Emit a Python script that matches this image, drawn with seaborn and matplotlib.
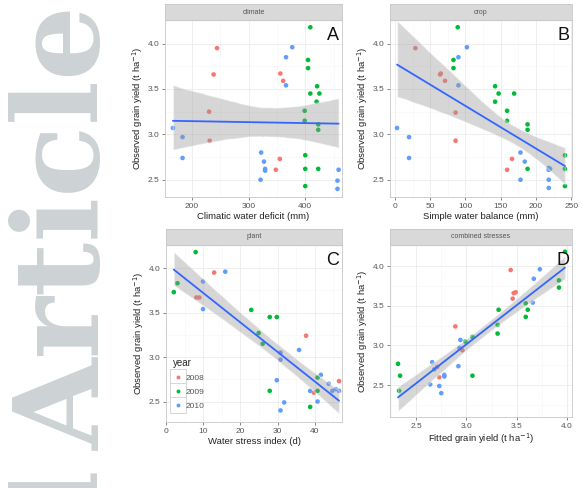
import numpy as np, pandas as pd
import matplotlib
matplotlib.use("Agg")
import matplotlib.pyplot as plt
from matplotlib.ticker import AutoMinorLocator, FixedLocator
from matplotlib.lines import Line2D
from matplotlib.legend_handler import HandlerTuple
import seaborn as sns

sns.set_theme(style="white")
plt.rcParams["font.family"] = ["Liberation Sans", "DejaVu Sans"]

YEARS = [2008, 2009, 2010]
PAL = {2008: "#F8766D", 2009: "#00BA38", 2010: "#619CFF"}
YLAB = "Observed grain yield (t ha$^{-1}$)"

# ---- panel A: climatic water deficit (mm) vs observed yield ----
a_x = [244, 238, 230, 231, 356, 361, 355, 348,
       409, 405, 405, 421, 409, 425, 420, 399, 399, 423, 423, 400, 400, 423, 400,
       166, 183, 183, 377, 366, 366, 322, 327, 329, 329, 321, 459, 457, 457]
a_y = [3.95, 3.66, 3.25, 2.93, 3.67, 3.59, 2.73, 2.61,
       4.18, 3.82, 3.73, 3.53, 3.45, 3.45, 3.36, 3.26, 3.15, 3.11, 3.05, 2.77, 2.62, 2.62, 2.43,
       3.07, 2.97, 2.74, 3.96, 3.85, 3.54, 2.80, 2.70, 2.62, 2.60, 2.50, 2.61, 2.49, 2.40]
a_year = [2008] * 8 + [2009] * 15 + [2010] * 14

# ---- panel B: simple water balance (mm) ----
b_x = [29, 65, 64, 71, 86, 86, 166, 159,
       89, 83, 83, 142, 147, 169, 142, 159, 159, 188, 188, 188, 241, 241, 241,
       102, 90, 90, 3, 20, 20, 178, 184, 218, 220, 178, 218, 218, 218]
b_y = [3.95, 3.67, 3.66, 3.59, 3.24, 2.93, 2.73, 2.61,
       4.18, 3.82, 3.73, 3.53, 3.45, 3.45, 3.36, 3.26, 3.15, 3.11, 3.05, 2.62, 2.77, 2.62, 2.43,
       3.96, 3.85, 3.54, 3.07, 2.97, 2.74, 2.80, 2.70, 2.63, 2.62, 2.50, 2.50, 2.41, 2.61]
b_year = [2008] * 8 + [2009] * 15 + [2010] * 14

# ---- panel C: water stress index (d) ----
c_x = [12.9, 8.1, 8.9, 37.7, 39.8, 46.6,
       7.9, 3.0, 2.0, 22.9, 27.9, 29.8, 24.9, 26.0, 27.9, 38.8, 40.8, 40.8,
       15.9, 9.9, 9.9, 35.8, 30.8, 30.8, 29.8, 31.8, 30.8, 40.8, 38.8, 41.7, 43.8, 44.8, 45.7, 46.6]
c_y = [3.95, 3.67, 3.67, 3.24, 2.60, 2.73,
       4.18, 3.83, 3.73, 3.53, 3.45, 3.45, 3.27, 3.15, 2.62, 2.44, 2.62, 2.77,
       3.96, 3.85, 3.54, 3.08, 3.05, 2.97, 2.74, 2.49, 2.40, 2.50, 2.62, 2.80, 2.70, 2.62, 2.64, 2.62]
c_year = [2008] * 6 + [2009] * 12 + [2010] * 16

# ---- panel D: fitted grain yield (t/ha) ----
d_x = [3.44, 3.47, 3.49, 3.46, 2.89, 2.96, 2.71, 2.73,
       3.98, 3.92, 3.92, 3.59, 3.61, 3.32, 3.59, 3.31, 3.31, 3.06, 2.99, 2.32, 2.34, 3.06, 2.33,
       3.73, 3.67, 3.66, 2.94, 2.93, 2.66, 2.92, 2.68, 2.78, 2.78, 2.64, 2.73, 2.75]
d_y = [3.95, 3.66, 3.67, 3.59, 3.24, 2.94, 2.73, 2.60,
       4.18, 3.82, 3.73, 3.53, 3.45, 3.45, 3.36, 3.26, 3.15, 3.11, 3.05, 2.77, 2.62, 2.62, 2.43,
       3.96, 3.84, 3.54, 3.07, 2.97, 2.79, 2.74, 2.70, 2.63, 2.61, 2.51, 2.49, 2.40]
d_year = [2008] * 8 + [2009] * 15 + [2010] * 13

W, H = 583, 488
fig = plt.figure(figsize=(W / 100, H / 100), dpi=100)


def box(l, t, r, b):
    return [l / W, 1 - b / H, (r - l) / W, (b - t) / H]


panels = [
    dict(x=a_x, y=a_y, yr=a_year, strip="climate", letter="A", pos=(165, 20, 342, 197),
         xlab="Climatic water deficit (mm)", xlim=(152, 465), ylim=(2.31, 4.26),
         xt=[200, 300, 400]),
    dict(x=b_x, y=b_y, yr=b_year, strip="crop", letter="B", pos=(390, 20, 572, 197),
         xlab="Simple water balance (mm)", xlim=(-7, 251), ylim=(2.31, 4.26),
         xt=[0, 50, 100, 150, 200, 250]),
    dict(x=c_x, y=c_y, yr=c_year, strip="plant", letter="C", pos=(166, 245, 342, 422),
         xlab="Water stress index (d)", xlim=(-0.1, 47.4), ylim=(2.27, 4.26),
         xt=[0, 10, 20, 30, 40]),
    dict(x=d_x, y=d_y, yr=d_year, strip="combined stresses", letter="D", pos=(390, 245, 572, 417),
         xlab="Fitted grain yield (t ha$^{-1}$)", xlim=(2.24, 4.05), ylim=(2.10, 4.265),
         xt=[2.5, 3.0, 3.5, 4.0]),
]

for p in panels:
    l, t, r, b = p["pos"]
    ax = fig.add_axes(box(l, t, r, b))
    df = pd.DataFrame({"x": p["x"], "y": p["y"], "year": p["yr"]})
    sns.scatterplot(data=df, x="x", y="y", hue="year", palette=PAL, s=11,
                    linewidth=0, legend=False, ax=ax, zorder=2)
    sns.regplot(data=df, x="x", y="y", scatter=False, ci=95, seed=3, n_boot=2000,
                color="#3366FF", line_kws=dict(lw=1.3, zorder=4), ax=ax)
    band = ax.collections[-1]
    band.set_facecolor("#999999"); band.set_alpha(0.4); band.set_zorder(3)
    ax.set_xlim(*p["xlim"]); ax.set_ylim(*p["ylim"])
    ax.xaxis.set_major_locator(FixedLocator(p["xt"]))
    ax.yaxis.set_major_locator(FixedLocator([2.5, 3.0, 3.5, 4.0]))
    ax.xaxis.set_minor_locator(AutoMinorLocator(2))
    ax.yaxis.set_minor_locator(AutoMinorLocator(2))
    ax.grid(True, which="major", color="#EBEBEB", lw=0.6)
    ax.grid(True, which="minor", color="#F5F5F5", lw=0.4)
    ax.set_axisbelow(True)
    for s in ax.spines.values():
        s.set_color("#C8C8C8"); s.set_linewidth(0.6)
    ax.tick_params(which="major", length=2.5, width=0.5, color="#555555",
                   labelsize=6, labelcolor="#555555", pad=1.5, bottom=True, left=True)
    ax.tick_params(which="minor", length=0)
    ax.set_xlabel(p["xlab"], fontsize=6.8, color="#222222", labelpad=1.5)
    ax.set_ylabel(YLAB, fontsize=6.8, color="#222222", labelpad=2)
    ax.text(0.985, 0.96, p["letter"], transform=ax.transAxes, ha="right", va="top",
            fontsize=13, color="#111111", zorder=6)
    # facet strip
    sax = fig.add_axes(box(l, t - 16, r, t))
    sax.set_facecolor("#D9D9D9")
    sax.set_xticks([]); sax.set_yticks([])
    for s in sax.spines.values():
        s.set_color("#C8C8C8"); s.set_linewidth(0.6)
    sax.text(0.5, 0.5, p["strip"], ha="center", va="center", fontsize=5,
             color="#555555", transform=sax.transAxes)
    if p["letter"] == "C":
        handles = [(Line2D([], [], marker="s", ms=11, mfc="white", mec="#D0D0D0", mew=0.6, ls=""),
                    Line2D([], [], marker="o", ms=2.8, mfc=PAL[y], mec="none", ls=""))
                   for y in YEARS]
        leg = ax.legend(handles, [str(y) for y in YEARS], title="year",
                        handler_map={tuple: HandlerTuple(ndivide=1)},
                        loc="lower left", bbox_to_anchor=(0.0, 0.03), frameon=False,
                        fontsize=6, title_fontsize=7, handlelength=1.2, handletextpad=0.4,
                        labelspacing=0.75, borderpad=0.3)
        leg._legend_box.align = "left"
        for txt in leg.get_texts():
            txt.set_color("#555555")

# journal watermark on the left (partly off the page, as in the source)
fig.text(100 / W, 1 - 450 / H, "Article", rotation=90, rotation_mode="anchor",
         ha="left", va="baseline", fontsize=85, family="DejaVu Serif", weight="bold",
         color="#CDD2D4")
fig.text(100 / W, 1 - 470 / H, "Accepted", rotation=90, rotation_mode="anchor",
         ha="right", va="baseline", fontsize=85, family="DejaVu Serif", weight="bold",
         color="#CDD2D4")

fig.savefig("out.png", dpi=100)
